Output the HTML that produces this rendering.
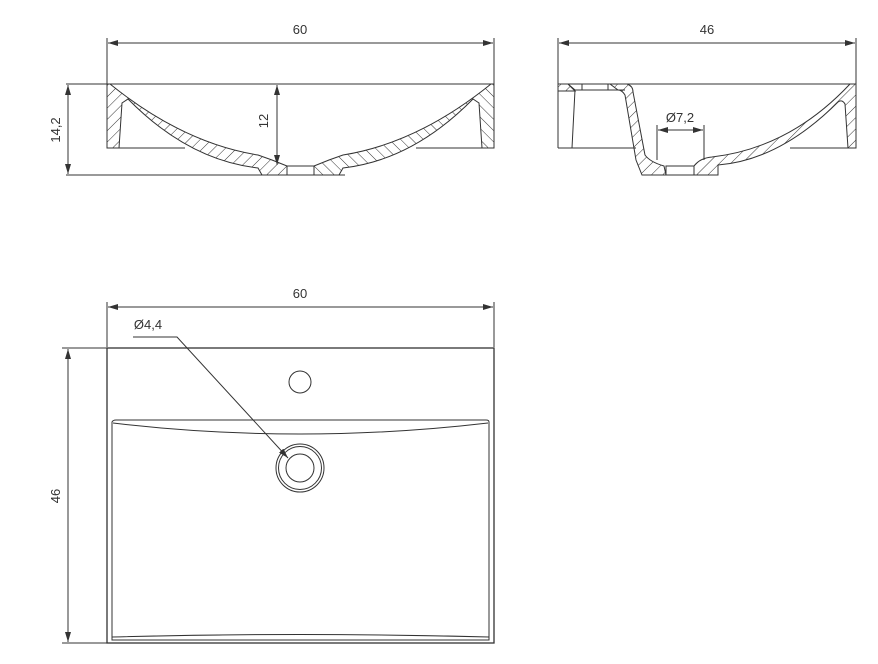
<!DOCTYPE html>
<html><head><meta charset="utf-8"><style>
html,body{margin:0;padding:0;background:#fff;}
svg{display:block;}
text{font-family:"Liberation Sans",sans-serif;font-size:13px;fill:#333;}
</style></head><body>
<svg width="878" height="664" viewBox="0 0 878 664" xmlns="http://www.w3.org/2000/svg">
<defs>
<pattern id="h" patternUnits="userSpaceOnUse" width="8" height="8" patternTransform="rotate(45)">
<line x1="0" y1="0" x2="0" y2="8" stroke="#333" stroke-width="1"/>
</pattern>
<marker id="a" markerWidth="10" markerHeight="6" refX="10" refY="3" orient="auto" markerUnits="userSpaceOnUse">
<path d="M0,0 L10,3 L0,6 Z" fill="#333"/>
</marker>
<marker id="b" markerWidth="10" markerHeight="6" refX="0" refY="3" orient="auto" markerUnits="userSpaceOnUse">
<path d="M10,0 L0,3 L10,6 Z" fill="#333"/>
</marker>
</defs>
<g stroke="#333" fill="none" stroke-width="1">
<line x1="107" y1="38" x2="107" y2="84"/>
<line x1="494" y1="38" x2="494" y2="84"/>
<line x1="108" y1="43" x2="493" y2="43" marker-start="url(#b)" marker-end="url(#a)"/>
<line x1="66" y1="84" x2="494" y2="84"/>
<line x1="68" y1="85" x2="68" y2="174" marker-start="url(#b)" marker-end="url(#a)"/>
<line x1="66" y1="175" x2="345" y2="175"/>
<line x1="277" y1="85" x2="277" y2="165" marker-start="url(#b)" marker-end="url(#a)"/>
<line x1="107" y1="148" x2="185" y2="148"/>
<line x1="416" y1="148" x2="494" y2="148"/>
<g id="lh">
<path d="M107,84 L110,84 Q183,143 258,155 L272,160 L287,166 L287,175 L262,175 L258,168 Q188,160 128,99 L122,103 L119,148 L107,148 Z" fill="url(#h)"/>
</g>
<use href="#lh" transform="translate(601,0) scale(-1,1)"/>
<rect x="287" y="166" width="27" height="9"/>
<line x1="558" y1="38" x2="558" y2="84"/>
<line x1="856" y1="38" x2="856" y2="84"/>
<line x1="559" y1="43" x2="855" y2="43" marker-start="url(#b)" marker-end="url(#a)"/>
<line x1="558" y1="84" x2="856" y2="84"/>
<line x1="558" y1="84" x2="558" y2="148"/>
<line x1="558" y1="148" x2="636" y2="148"/>
<line x1="790" y1="148" x2="856" y2="148"/>
<path d="M558,84 L568,84 L575,90 L572,148" />
<path d="M575,90 L625,90"/>
<line x1="582" y1="84" x2="582" y2="90"/>
<line x1="608" y1="84" x2="608" y2="90"/>
<path d="M558,84 L568,84 L575,91 L558,91 Z" fill="url(#h)"/>
<path d="M610,84 L627,84 Q633,86 633,92 L645,155 Q650,162 664,166 L666,175 L642,175 L636,160 L625,95 Q622,90 618,90 Z" fill="url(#h)"/>
<rect x="666" y="166" width="28" height="9"/>
<path d="M694,166 Q700,158 712,157 Q790,148 850,84 L856,84 L856,148 L848,148 L845,104 Q842,99 838,102 Q780,160 718,165 L718,175 L694,175 Z" fill="url(#h)"/>
<line x1="657" y1="125" x2="657" y2="160"/>
<line x1="704" y1="125" x2="704" y2="160"/>
<line x1="658" y1="130" x2="703" y2="130" marker-start="url(#b)" marker-end="url(#a)"/>
<line x1="107" y1="302" x2="107" y2="347"/>
<line x1="494" y1="302" x2="494" y2="347"/>
<line x1="108" y1="307" x2="493" y2="307" marker-start="url(#b)" marker-end="url(#a)"/>
<line x1="62" y1="348" x2="107" y2="348"/>
<line x1="62" y1="643" x2="107" y2="643"/>
<line x1="68" y1="349" x2="68" y2="642" marker-start="url(#b)" marker-end="url(#a)"/>
<rect x="107" y="348" width="387" height="295" stroke-width="1.3"/>
<circle cx="300" cy="382" r="11"/>
<path d="M112,640 L112,422 Q113,420 116,420 L486,420 Q489,420 489,422 L489,640 Z"/>
<path d="M113,423 Q300,445 488,423"/>
<path d="M112,637 Q300,632 489,637"/>
<circle cx="300" cy="468" r="24"/>
<circle cx="300" cy="468" r="21.5"/>
<circle cx="300" cy="468" r="14"/>
<path d="M133,337 L177,337 L288,458" marker-end="url(#a)"/>
</g>
<text x="300" y="34" text-anchor="middle">60</text>
<text x="707" y="34" text-anchor="middle">46</text>
<text x="300" y="298" text-anchor="middle">60</text>
<text x="680" y="122" text-anchor="middle">Ø7,2</text>
<text x="148" y="329" text-anchor="middle">Ø4,4</text>
<text transform="translate(60,130) rotate(-90)" text-anchor="middle">14,2</text>
<text transform="translate(268,121) rotate(-90)" text-anchor="middle">12</text>
<text transform="translate(60,496) rotate(-90)" text-anchor="middle">46</text>
</svg>
</body></html>
